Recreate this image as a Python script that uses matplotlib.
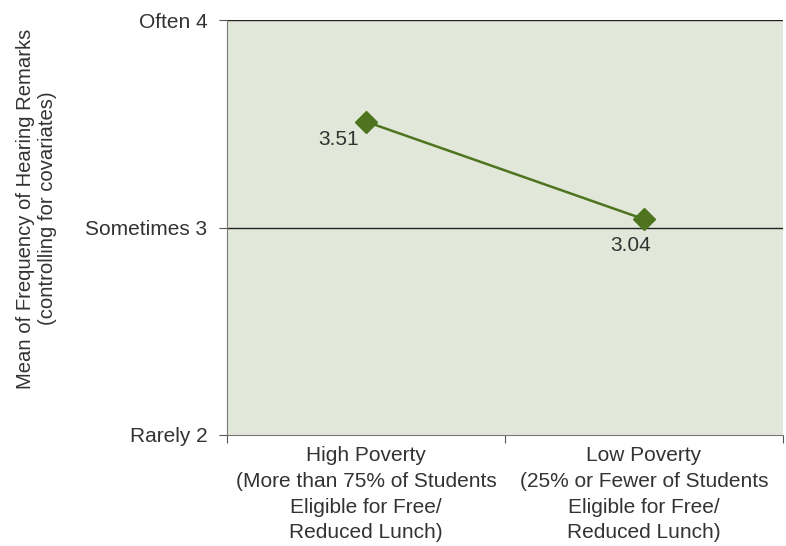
import numpy as np
import matplotlib.pyplot as plt

plt.rcParams['font.family'] = ['Liberation Sans', 'DejaVu Sans']

# data
categories = ['High Poverty\n(More than 75% of Students\nEligible for Free/\nReduced Lunch)',
              'Low Poverty\n(25% or Fewer of Students\nEligible for Free/\nReduced Lunch)']
means = [3.51, 3.04]
y_ticks = [2, 3, 4]
y_tick_labels = ['Rarely 2', 'Sometimes 3', 'Often 4']

text_color = '#333333'
line_color = '#4e7420'

fig = plt.figure(figsize=(7.86, 5.46), dpi=100)
ax = fig.add_axes([227 / 786, 1 - 435 / 546, 556 / 786, 415 / 546])
ax.set_facecolor('#e2e8d9')

x = np.arange(len(means)) + 0.5
ax.plot(x, means, color=line_color, linewidth=1.8, marker='D', markersize=11, zorder=3)

# reference lines at 3 and 4
for yv in [3, 4]:
    ax.axhline(yv, color='#222222', linewidth=1.0, zorder=2)

# data labels
offsets = [(-27, -18), (-13, -26)]
for xi, yi, off in zip(x, means, offsets):
    ax.annotate(f'{yi:.2f}', (xi, yi), xytext=off, textcoords='offset pixels',
                ha='center', va='center', fontsize=15, color=text_color)

ax.set_xlim(0, 2)
ax.set_ylim(2, 4)
ax.set_yticks(y_ticks)
ax.set_yticklabels(y_tick_labels, fontsize=15, color=text_color)
ax.set_xticks([0, 1, 2])
ax.set_xticklabels([])
ax.set_xticks(x, minor=True)
ax.set_xticklabels(categories, minor=True, fontsize=15, color=text_color, linespacing=1.45)
ax.tick_params(axis='x', which='minor', length=0, pad=8)
ax.tick_params(axis='x', which='major', length=6, color='#555555', direction='out')
ax.tick_params(axis='y', length=6, color='#555555', direction='out', pad=8)

for side in ['top', 'right']:
    ax.spines[side].set_visible(False)
ax.spines['left'].set_color('#777777')
ax.spines['bottom'].set_color('#777777')

fig.text(0.046, 0.618, 'Mean of Frequency of Hearing Remarks\n(controlling for covariates)',
         rotation=90, ha='center', va='center', fontsize=14.6, color=text_color,
         linespacing=1.2)

fig.savefig('out.png', dpi=100)
